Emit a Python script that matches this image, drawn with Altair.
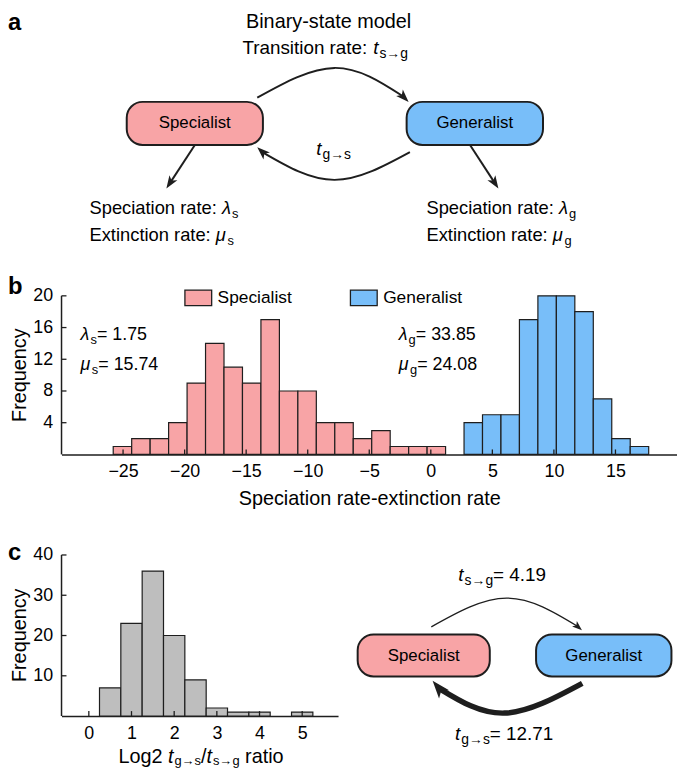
import altair as alt
import pandas as pd

FONT = "Liberation Sans"
INK = "#1e1e1e"
PINK = "#F8A4A6"
BLUE = "#78BEF9"
GREY = "#BEBEBE"

# ---------------- data ----------------
groups = ["Specialist", "Generalist"]
spec_edges = [-25.8, -24.3, -22.8, -21.3, -19.8, -18.3, -16.8, -15.3, -13.8, -12.3,
              -10.8, -9.3, -7.8, -6.3, -4.8, -3.3, -1.8, -0.3, 1.2]
spec_counts = [1, 2, 2, 4, 9, 14, 11, 9, 17, 8, 8, 4, 4, 2, 3, 1, 1, 1]
gen_edges = [2.7, 4.2, 5.7, 7.2, 8.7, 10.2, 11.7, 13.2, 14.7, 16.2, 17.7]
gen_counts = [4, 5, 5, 17, 20, 20, 18, 7, 2, 1]
ratio_edges = [0.25, 0.75, 1.25, 1.75, 2.25, 2.75, 3.25, 3.75, 4.25, 4.75, 5.25]
ratio_counts = [7, 23, 36, 20, 9, 2, 1, 1, 0, 1]

b_x_ticks = [-25, -20, -15, -10, -5, 0, 5, 10, 15]
b_y_ticks = [4, 8, 12, 16, 20]
c_x_ticks = [0, 1, 2, 3, 4, 5]
c_y_ticks = [10, 20, 30, 40]

lam_s, mu_s = "1.75", "15.74"
lam_g, mu_g = "33.85", "24.08"
t_sg, t_gs = "4.19", "12.71"

# ---------------- layout (pixels) ----------------
PA_W, PA_H = 621, 267
PB_W, PB_H = 621, 172
PC_H = 256
PCH_W = 279
PCD_W = 342
B_XDOM, B_YDOM = [-30, 20], [0, 21.5]
C_XDOM, C_YDOM = [-0.64, 5.84], [0, 63]

# diagram node boxes (panel a and panel c), in panel pixel units
a_box_x1 = [65.8, 348.2]
a_box_x2 = [203.2, 485.8]
a_box_y = (91.3, 134.7)
c_box_x1 = [19.8, 199.8]
c_box_x2 = [153.1, 336.4]
c_box_y = (173.7, 216.0)

ADV = {" ": 278, "-": 333, ".": 278, ":": 278, "=": 584, "/": 278, "→": 1000,
       "λ": 500, "μ": 577, "B": 667, "E": 667, "F": 611, "G": 778, "L": 556,
       "S": 667, "T": 611, "c": 500, "f": 278, "i": 222, "j": 222, "k": 500,
       "l": 222, "m": 833, "r": 333, "s": 500, "t": 278, "v": 500, "w": 722,
       "x": 500, "y": 500, "z": 500}


def tw(s, size):
    return sum(ADV.get(ch, 556) for ch in s) * size / 1000


def rich(pieces, x, y, size, anchor="left", sub_scale=0.72, sub_drop=0.3):
    sub = round(size * sub_scale)
    widths = [tw(t, sub if k == "s" else size) for t, k in pieces]
    cx = x - sum(widths) / 2 if anchor == "center" else x
    rows = []
    for (t, k), w in zip(pieces, widths):
        fs = sub if k == "s" else size
        lead = len(t) - len(t.lstrip(" "))
        rows.append({"x": cx + tw(" " * lead, fs),
                     "y": y + (round(size * sub_drop) if k == "s" else 0),
                     "text": t.strip(" "), "size": fs,
                     "style": "italic" if k == "i" else "normal"})
        cx += w + (1 if k == "i" else 0)
    return rows


def to_data(rows, xdom, width, ydom, height):
    out = []
    for r in rows:
        r = dict(r)
        r["x"] = xdom[0] + r["x"] / width * (xdom[1] - xdom[0])
        r["y"] = ydom[0] + (height - r["y"]) / height * (ydom[1] - ydom[0])
        out.append(r)
    return out


def texts(rows, xaxis=None, yaxis=None):
    df = pd.DataFrame(rows)
    out = []
    for style in ("normal", "italic"):
        part = df[df["style"] == style]
        if len(part):
            if xaxis is not None:
                xe = alt.X("x:Q", axis=xaxis)
                ye = alt.Y("y:Q", axis=yaxis)
            else:
                xe = alt.X("x:Q", scale=None)
                ye = alt.Y("y:Q", scale=None)
            out.append(alt.Chart(part).mark_text(align="left", baseline="middle", font=FONT,
                                                 fontStyle=style, color="black").encode(
                x=xe, y=ye, text="text:N", size=alt.Size("size:Q", scale=None)))
    return out


HEAD = "M0,0 L0.55,1.5 L0,1.12 L-0.55,1.5 Z"


def connectors(lines, heads):
    ldf = pd.DataFrame(lines, columns=["id", "k", "x", "y", "w"])
    hdf = pd.DataFrame(heads, columns=["x", "y", "ang", "sz"])
    line = alt.Chart(ldf).mark_line(interpolate="natural", color=INK).encode(
        x=alt.X("x:Q", scale=None), y=alt.Y("y:Q", scale=None), detail="id:N",
        order="k:Q", strokeWidth=alt.StrokeWidth("w:Q", scale=None))
    head = alt.Chart(hdf).mark_point(shape=HEAD, filled=True, color=INK, opacity=1,
                                     strokeWidth=0).encode(
        x=alt.X("x:Q", scale=None), y=alt.Y("y:Q", scale=None),
        angle=alt.Angle("ang:Q", scale=None), size=alt.Size("sz:Q", scale=None))
    return [line, head]


def boxes(x1, x2, yy):
    df = pd.DataFrame({"name": groups, "x1": x1, "x2": x2, "y1": [yy[0]] * 2,
                       "y2": [yy[1]] * 2, "fill": [PINK, BLUE]})
    return alt.Chart(df).mark_rect(cornerRadius=16, stroke=INK, strokeWidth=2).encode(
        x=alt.X("x1:Q", scale=None), x2="x2:Q", y=alt.Y("y1:Q", scale=None), y2="y2:Q",
        fill=alt.Fill("fill:N", scale=None))


def letter(ch, x, y):
    return alt.Chart(pd.DataFrame({"t": [ch]})).mark_text(
        font=FONT, fontSize=24, fontWeight="bold", align="left", baseline="alphabetic",
        color="black").encode(text="t:N", x=alt.value(x), y=alt.value(y))


def ytitle(txt, x, y):
    return alt.Chart(pd.DataFrame({"t": [txt]})).mark_text(
        font=FONT, fontSize=20, angle=270, align="center", baseline="middle",
        color="black").encode(text="t:N", x=alt.value(x), y=alt.value(y))


def rules_x(vals, h, xaxis):
    return alt.Chart(pd.DataFrame({"v": vals})).mark_rule(color=INK, strokeWidth=1.3).encode(
        x=alt.X("v:Q", axis=xaxis), y=alt.value(h), y2=alt.value(h - 5))


def rules_y(vals, yaxis):
    return alt.Chart(pd.DataFrame({"v": vals})).mark_rule(color=INK, strokeWidth=1.3).encode(
        y=alt.Y("v:Q", axis=yaxis), x=alt.value(0), x2=alt.value(5))


def yline(top, yaxis):
    return alt.Chart(pd.DataFrame({"v0": [0], "v1": [top]})).mark_rule(
        color=INK, strokeWidth=1.5).encode(x=alt.value(0), y=alt.Y("v0:Q", axis=yaxis), y2="v1:Q")


# ---------------- panel a ----------------
a_text = []
a_text += rich([("Binary-state model", "n")], 269.5, 11, 20, "center")
a_text += rich([("Transition rate: ", "n"), ("t", "i"), ("s→g", "s")], 182.5, 37, 19)
a_text += rich([("t", "i"), ("g→s", "s")], 257.0, 139, 19)
a_text += rich([("Speciation rate: ", "n"), ("λ", "i"), ("s", "s")], 28.2, 198.7, 18.5)
a_text += rich([("Extinction rate: ", "n"), ("μ", "i"), ("s", "s")], 28.2, 225.3, 18.5)
a_text += rich([("Speciation rate: ", "n"), ("λ", "i"), ("g", "s")], 368.2, 198.7, 18.5)
a_text += rich([("Extinction rate: ", "n"), ("μ", "i"), ("g", "s")], 368.2, 225.3, 18.5)
a_text += rich([("Specialist", "n")], 134.5, 113, 17, "center")
a_text += rich([("Generalist", "n")], 417.0, 113, 17, "center")

a_lines = [
    (1, 0, 197.5, 87.0, 2), (1, 1, 275.5, 57.0, 2), (1, 2, 344.5, 85.6, 2),
    (2, 0, 351.5, 142.0, 2), (2, 1, 275.5, 170.0, 2), (2, 2, 203.4, 142.5, 2),
    (3, 0, 134.2, 135.3, 2), (3, 1, 110.2, 172.0, 2),
    (4, 0, 412.5, 135.3, 2), (4, 1, 436.4, 172.0, 2),
]
a_heads = [(350.2, 91.3, 135, 300), (197.5, 137.0, 313, 300),
           (105.8, 178.7, 213, 300), (440.8, 178.7, 147, 300)]

panel_a = alt.layer(
    boxes(a_box_x1, a_box_x2, a_box_y), *connectors(a_lines, a_heads), *texts(a_text),
    letter("a", -54, 19)
).properties(width=PA_W, height=PA_H)

# ---------------- panel b ----------------
b_xaxis = alt.Axis(values=b_x_ticks, title="Speciation rate-extinction rate",
                   titlePadding=9, labelPadding=8)
b_yaxis = alt.Axis(values=b_y_ticks, title=None, domain=False)

bar_rows = [{"group": "Specialist", "x0": spec_edges[i], "x1": spec_edges[i + 1], "n": c, "z": 0}
            for i, c in enumerate(spec_counts)]
bar_rows += [{"group": "Generalist", "x0": gen_edges[i], "x1": gen_edges[i + 1], "n": c, "z": 0}
             for i, c in enumerate(gen_counts)]

legend_b = alt.Legend(orient="none", legendX=123.5, legendY=-0.5, direction="horizontal",
                      title=None, symbolType="M-1,-0.58 L1,-0.58 L1,0.58 L-1,0.58 Z",
                      symbolSize=729, symbolStrokeColor=INK, symbolStrokeWidth=1.3,
                      symbolOpacity=1, labelFont=FONT, labelFontSize=17.5, labelColor="black",
                      labelOffset=5, columnPadding=56, padding=0)

bars_b = alt.Chart(pd.DataFrame(bar_rows)).mark_bar(stroke=INK, strokeWidth=1.2, opacity=1).encode(
    x=alt.X("x0:Q", scale=alt.Scale(domain=B_XDOM, nice=False, zero=False), axis=b_xaxis),
    x2="x1:Q",
    y=alt.Y("n:Q", scale=alt.Scale(domain=B_YDOM, nice=False), axis=b_yaxis),
    y2="z:Q",
    color=alt.Color("group:N", scale=alt.Scale(domain=groups, range=[PINK, BLUE]),
                    legend=legend_b),
)

b_text = []
b_text += rich([("λ", "i"), ("s", "s"), ("= " + lam_s, "n")], 19.2, 52, 18)
b_text += rich([("μ", "i"), ("s", "s"), ("= " + mu_s, "n")], 19.2, 82, 18)
b_text += rich([("λ", "i"), ("g", "s"), ("= " + lam_g, "n")], 340.2, 52, 18)
b_text += rich([("μ", "i"), ("g", "s"), ("= " + mu_g, "n")], 340.2, 82, 18)
b_text = to_data(b_text, B_XDOM, PB_W, B_YDOM, PB_H)

panel_b = alt.layer(
    bars_b, rules_x(b_x_ticks, PB_H, b_xaxis), rules_y(b_y_ticks, b_yaxis), yline(20, b_yaxis),
    *texts(b_text, b_xaxis, b_yaxis),
    ytitle("Frequency", -42, 92), letter("b", -54, 10)
).properties(width=PB_W, height=PB_H)

# ---------------- panel c: histogram ----------------
c_xaxis = alt.Axis(values=c_x_ticks, title=None, labelPadding=9)
c_yaxis = alt.Axis(values=c_y_ticks, title=None, domain=False)

c_rows = [{"x0": ratio_edges[i], "x1": ratio_edges[i + 1], "n": c, "z": 0}
          for i, c in enumerate(ratio_counts) if c > 0]
bars_c = alt.Chart(pd.DataFrame(c_rows)).mark_bar(fill=GREY, stroke=INK, strokeWidth=1.2,
                                                  opacity=1).encode(
    x=alt.X("x0:Q", scale=alt.Scale(domain=C_XDOM, nice=False, zero=False), axis=c_xaxis),
    x2="x1:Q",
    y=alt.Y("n:Q", scale=alt.Scale(domain=C_YDOM, nice=False), axis=c_yaxis),
    y2="z:Q",
)
c_title = rich([("Log2 ", "n"), ("t", "i"), ("g→s", "s"), ("/", "n"), ("t", "i"),
                ("s→g", "s"), (" ratio", "n")], 139.8, 297, 20, "center",
               sub_scale=0.67, sub_drop=0.22)
c_title = to_data(c_title, C_XDOM, PCH_W, C_YDOM, PC_H)

c_hist = alt.layer(
    bars_c, rules_x(c_x_ticks, PC_H, c_xaxis), rules_y(c_y_ticks, c_yaxis), yline(40, c_yaxis),
    *texts(c_title, c_xaxis, c_yaxis),
    ytitle("Frequency", -42, 174.5), letter("c", -54, 99)
).properties(width=PCH_W, height=PC_H)

# ---------------- panel c: diagram ----------------
cd_text = []
cd_text += rich([("t", "i"), ("s→g", "s"), ("= " + t_sg, "n")], 121.4, 113.7, 19)
cd_text += rich([("t", "i"), ("g→s", "s"), ("= " + t_gs, "n")], 118.1, 274, 19)
cd_text += rich([("Specialist", "n")], 86.5, 195, 17, "center")
cd_text += rich([("Generalist", "n")], 268.1, 195, 17, "center")

c_lines = [
    (1, 0, 94.1, 166.0, 1.3), (1, 1, 170.1, 137.0, 1.3), (1, 2, 241.6, 165.4, 1.3),
    (2, 0, 246.4, 223.0, 5.5), (2, 1, 168.1, 253.0, 5.5), (2, 2, 101.8, 228.0, 5.5),
]
c_heads = [(246.1, 169.3, 131, 178), (95.4, 220.3, 320, 576)]

c_diag = alt.layer(
    boxes(c_box_x1, c_box_x2, c_box_y), *connectors(c_lines, c_heads), *texts(cd_text)
).properties(width=PCD_W, height=PC_H)

row_c = alt.hconcat(c_hist, c_diag, spacing=0, bounds="flush")

chart = alt.vconcat(panel_a, panel_b, row_c, spacing=8, bounds="flush").resolve_scale(
    color="independent"
).resolve_legend(color="independent").properties(
    padding=0
).configure_view(stroke=None).configure_axis(
    labelFont=FONT, titleFont=FONT, labelFontSize=18, titleFontSize=20,
    labelColor="black", titleColor="black", titleFontWeight="normal",
    domainColor=INK, domainWidth=1.5, ticks=False, grid=False
).configure_axisX(labelPadding=6).configure_axisY(labelPadding=9)

chart.save("out.html", embed_options={"renderer": "svg", "actions": False})
